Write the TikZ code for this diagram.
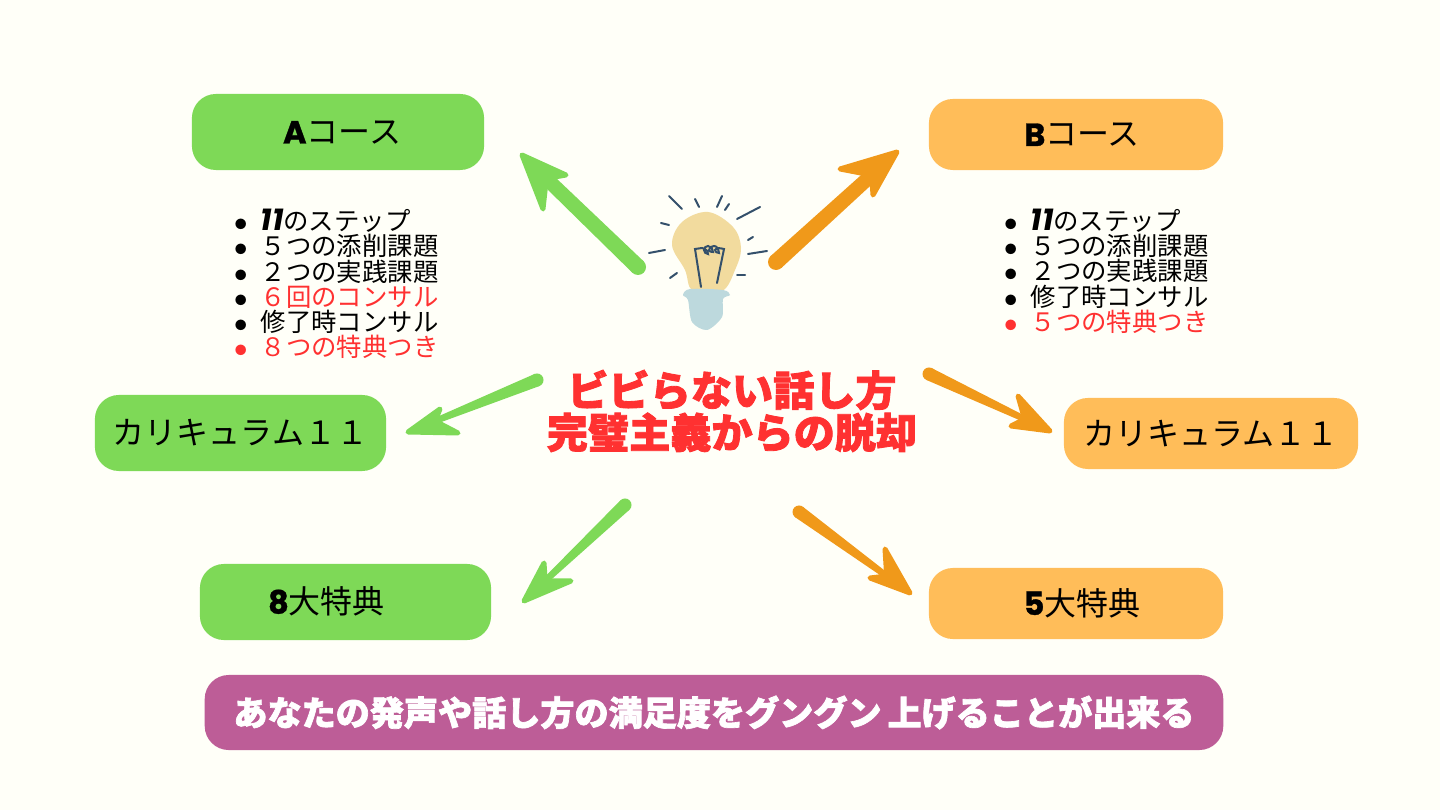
\documentclass[tikz,border=0pt]{standalone}
\usepackage{fontspec}
\usetikzlibrary{calc}
\setmainfont{Noto Sans CJK JP}
\newfontfamily\heavyfont[BoldFeatures={FakeBold=2}]{Noto Sans CJK JP}
\newfontfamily\latinfont[BoldFeatures={FakeBold=1}]{Poppins}
\definecolor{paper}{HTML}{FFFFF8}
\definecolor{greenbox}{HTML}{7ED957}
\definecolor{orangebox}{HTML}{FFBD59}
\definecolor{orangearrow}{HTML}{F0991A}
\definecolor{purplebox}{HTML}{BD5D97}
\definecolor{redtext}{HTML}{FF3131}
\definecolor{bulbglass}{HTML}{F2DB9E}
\definecolor{bulbbase}{HTML}{BDD9DD}
\definecolor{bulbline}{HTML}{34506B}
\newcommand{\tightlines}{\lineskiplimit=-20pt \lineskip=0pt\relax}
\tikzset{
  course/.style={rounded corners=0.24cm,inner sep=0pt,text=black,
    text height=0.23cm,text depth=0cm,font=\fontsize{9.1}{10}\selectfont},
  courselist/.style={anchor=west,inner sep=0pt,align=left,
    font=\fontsize{7.22}{7.2}\selectfont\tightlines},
  ray/.style={bulbline,line width=0.02cm,line cap=round},
}
\newcommand{\heavyin}[1]{{\latinfont\bfseries #1}}
\newcommand{\stepnum}{{\latinfont\fontsize{8.6}{7.2}\selectfont\bfseries\itshape 11}}
\newcommand{\listitem}[1]{\makebox[0.27cm][l]{$\bullet$}#1}
% color, start, tip, barb, barb, half width at start, half width at head
\newcommand{\handarrow}[7]{
  \coordinate (neck) at ($(#3)!0.2!(#2)$);
  \coordinate (root) at ($(#3)!0.21!(#2)$);
  \fill[#1] ($(#2)!#6!90:(#3)$) -- ($(neck)!#7!-90:(#2)$) -- ($(neck)!#7!90:(#2)$) -- ($(#2)!#6!-90:(#3)$) -- cycle;
  \fill[#1] (#2) circle (#6);
  \filldraw[#1,line width=0.05cm,line join=round] (#3) -- (#4) -- (root) -- (#5) -- cycle;
}
\begin{document}
\begin{tikzpicture}[x=0.01cm,y=-0.01cm]
  \fill[paper] (0,0) rectangle (1440,810);
  \useasboundingbox (0,0) rectangle (1440,810);

  %course boxes
  \node[course,fill=greenbox,minimum width=2.92cm,minimum height=0.76cm] (coursea) at (338,132) {\hspace*{0.08cm}\heavyin{A}コース};
  \node[course,fill=orangebox,minimum width=2.94cm,minimum height=0.71cm] (courseb) at (1076,134.5) {\hspace*{0.12cm}\heavyin{B}コース};
  \node[course,fill=greenbox,minimum width=2.91cm,minimum height=0.76cm] (curra) at (240.5,433) {カリキュラム１１};
  \node[course,fill=orangebox,minimum width=2.94cm,minimum height=0.71cm] (currb) at (1211,433.5) {カリキュラム１１};
  \node[course,fill=greenbox,minimum width=2.91cm,minimum height=0.76cm] (bonusa) at (345.5,602) {\heavyin{8}大特典\hspace*{0.38cm}};
  \node[course,fill=orangebox,minimum width=2.94cm,minimum height=0.71cm] (bonusb) at (1076,603.5) {\hspace*{0.12cm}\heavyin{5}大特典};

  %lists
  \node[courselist] (lista) at (233,284) {%
    \listitem{\stepnum のステップ}\\
    \listitem{５つの添削課題}\\
    \listitem{２つの実践課題}\\
    \listitem{\textcolor{redtext}{６回のコンサル}}\\
    \listitem{修了時コンサル}\\
    \textcolor{redtext}{\listitem{８つの特典つき}}};
  \node[courselist] (listb) at (1003,271) {%
    \listitem{\stepnum のステップ}\\
    \listitem{５つの添削課題}\\
    \listitem{２つの実践課題}\\
    \listitem{修了時コンサル}\\
    \textcolor{redtext}{\listitem{５つの特典つき}}};

  %title
  \node[inner sep=0pt,align=center,text=redtext,font=\fontsize{11.7}{12}\selectfont\heavyfont\bfseries\tightlines] (title) at (732,411) {ビビらない話し方\\完璧主義からの脱却};

  %bottom
  \node[rounded corners=0.24cm,inner sep=0pt,fill=purplebox,text=white,minimum width=10.18cm,minimum height=0.75cm,font=\fontsize{9.7}{10}\selectfont\heavyfont\bfseries] (result) at (714,712.5) {あなたの発声や話し方の満足度をグングン\hspace{0.06cm}上げることが出来る};

  %arrows
  \coordinate (ul-s) at (638,267);
  \coordinate (ul-t) at (522,155);
  \coordinate (ul-b) at (566,175);
  \coordinate (ul-c) at (543,209);
  \handarrow{greenbox}{ul-s}{ul-t}{ul-b}{ul-c}{0.08cm}{0.07cm}
  \coordinate (ur-s) at (776,262);
  \coordinate (ur-t) at (897,152);
  \coordinate (ur-b) at (840,169);
  \coordinate (ur-c) at (873,195);
  \handarrow{orangearrow}{ur-s}{ur-t}{ur-b}{ur-c}{0.08cm}{0.07cm}
  \coordinate (ml-s) at (537,380);
  \coordinate (ml-t) at (408,432);
  \coordinate (ml-b) at (440,409);
  \coordinate (ml-c) at (458,433);
  \handarrow{greenbox}{ml-s}{ml-t}{ml-b}{ml-c}{0.065cm}{0.03cm}
  \coordinate (mr-s) at (929,374);
  \coordinate (mr-t) at (1050,431);
  \coordinate (mr-b) at (1018,396);
  \coordinate (mr-c) at (1011,426);
  \handarrow{orangearrow}{mr-s}{mr-t}{mr-b}{mr-c}{0.065cm}{0.03cm}
  \coordinate (dl-s) at (625,505);
  \coordinate (dl-t) at (524,601);
  \coordinate (dl-b) at (544,563);
  \coordinate (dl-c) at (571,581);
  \handarrow{greenbox}{dl-s}{dl-t}{dl-b}{dl-c}{0.065cm}{0.03cm}
  \coordinate (dr-s) at (799,512);
  \coordinate (dr-t) at (910,593);
  \coordinate (dr-b) at (885,549);
  \coordinate (dr-c) at (870,578);
  \handarrow{orangearrow}{dr-s}{dr-t}{dr-b}{dr-c}{0.065cm}{0.03cm}

  %bulb
  \fill[bulbglass] plot[smooth cycle,tension=0.6] coordinates {(708,212) (733,227) (741,248) (735,270) (722,291) (693,291) (685,270) (672,245) (682,222)};
  \fill[bulbbase] plot[smooth cycle,tension=0.5] coordinates {(690,289) (723,290) (730,295) (723,299) (722,317) (707,330) (692,322) (688,300) (683,295)};
  \draw[ray] (701,287) -- (695,249) -- (702,248) to[out=-10,in=90] (708,254) to[out=180,in=-90] (704,250) to[out=90,in=180] (708,246) to[out=0,in=90] (713,252) to[out=180,in=-90] (709,250) to[out=90,in=180] (714,246) to[out=0,in=100] (719,253) to[out=180,in=-90] (715,250) to[out=60,in=170] (724,249) -- (717,283);
  \draw[ray] (669,196) -- (682,209);
  \draw[ray] (695,199) -- (699,207);
  \draw[ray] (722,196) -- (717,207);
  \draw[ray] (729,204) -- (725,210);
  \draw[ray] (760,207) -- (737,219);
  \draw[ray] (661,223) -- (669,225);
  \draw[ray] (753,237) -- (748,240);
  \draw[ray] (649,253) -- (665,250);
  \draw[ray] (767,251) -- (748,254);
  \draw[ray] (677,273) -- (670,278);
  \draw[ray] (737,275) -- (745,275);
\end{tikzpicture}
\end{document}
